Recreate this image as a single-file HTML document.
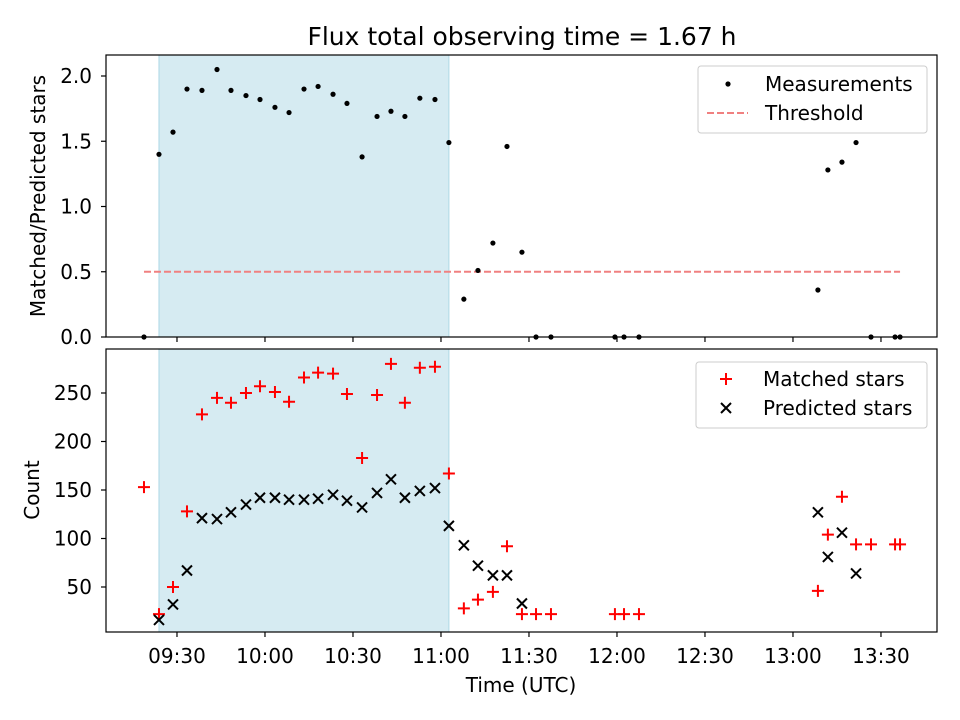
<!DOCTYPE html>
<html><head><meta charset="utf-8"><style>
body{margin:0;background:#fff}
svg{display:block;font-family:"DejaVu Sans","Liberation Sans",sans-serif}
</style></head><body>
<svg id="c" width="960" height="720" xmlns="http://www.w3.org/2000/svg"></svg>
<script>
const times=[18.75,23.86,28.64,33.41,38.52,43.64,48.41,53.52,58.3,63.4,68.2,73.3,78.1,83.2,87.95,93.1,98.2,102.95,107.7,112.8,117.95,122.7,127.8,132.6,137.7,142.5,147.6,152.4,157.5,179.3,182.4,187.5,248.5,251.9,256.7,261.5,266.6,274.8,276.5];
const ratio=[0,1.40,1.57,1.90,1.89,2.05,1.89,1.85,1.82,1.76,1.72,1.90,1.92,1.86,1.79,1.38,1.69,1.73,1.69,1.83,1.82,1.49,0.29,0.51,0.72,1.46,0.65,0,0,0,0,0,0.36,1.28,1.34,1.49,0,0,0];
const matched=[153,22,50,128,228,245,240,250,257,251,241,266,271,270,249,183,248,280,240,276,277,167,28,37,45,92,22,22,22,22,22,22,46,104,143,94,94,94,94];
const predicted=[null,16,32,67,121,120,127,135,142,142,140,140,141,145,139,132,147,161,142,149,152,113,93,72,62,62,33,null,null,null,null,null,127,81,106,64,null,null,null];
const xTickMin=[30,60,90,120,150,180,210,240,270];
const xTickLabels=["09:30","10:00","10:30","11:00","11:30","12:00","12:30","13:00","13:30"];
const topTicks=[0,0.5,1.0,1.5,2.0];
const botTicks=[50,100,150,200,250];
const threshold=0.5, threshStart=18.75, threshEnd=276.5;
const spanStart=23.86, spanEnd=122.7;

const S=document.getElementById('c'),NS='http://www.w3.org/2000/svg';
function el(t,a,p){const e=document.createElementNS(NS,t);for(const k in a)e.setAttribute(k,a[k]);(p||S).appendChild(e);return e;}
const L=106,R=937;
const X=m=>L+(m-5.8)*(R-L)/(289.1-5.8);
const T={top:55,bot:337},B={top:349,bot:632};
const Yt=v=>337-v*130.5;
const Yb=v=>587-(v-50)*0.97;
const FS=20;

const title=el('text',{x:522,y:45,'font-size':25,'text-anchor':'middle'});title.textContent='Flux total observing time = 1.67 h';



function panel(P,name){
  const g=el('g',{});
  
  
  const sp=el('rect',{x:X(spanStart),y:P.top,width:X(spanEnd)-X(spanStart),height:P.bot-P.top,fill:'#add8e6','fill-opacity':0.5,stroke:'#add8e6'},g);
  
  
  return g;
}
function frame(P,g){
  el('rect',{x:L,y:P.top,width:R-L,height:P.bot-P.top,fill:'none',stroke:'#000','stroke-width':1.2},g);
  xTickMin.forEach(m=>el('line',{x1:X(m),x2:X(m),y1:P.bot,y2:P.bot+5,stroke:'#000','stroke-width':1.2},g));
}
// top
const gt=panel(T,'ratio-panel');
const th=el('line',{x1:X(threshStart),x2:X(threshEnd),y1:Yt(threshold),y2:Yt(threshold),stroke:'#f08080','stroke-width':2,'stroke-dasharray':'7,3'},gt);


times.forEach((t,i)=>{const c=el('circle',{cx:X(t),cy:Yt(ratio[i]),r:2.6,fill:'#000'},gt);

});
frame(T,gt);
topTicks.forEach(v=>{el('line',{x1:L-5,x2:L,y1:Yt(v),y2:Yt(v),stroke:'#000','stroke-width':1.2},gt);
const t=el('text',{x:L-14,y:Yt(v)+7,'font-size':FS,'text-anchor':'end'},gt);t.textContent=v.toFixed(1);});
const yl1=el('text',{x:45,y:196,'font-size':FS,'text-anchor':'middle',transform:'rotate(-90 45 196)'},gt);yl1.textContent='Matched/Predicted stars';


// top legend
const lg1=el('g',{},gt);


el('rect',{x:698,y:66,width:229,height:67,rx:3,fill:'#fff','fill-opacity':0.8,stroke:'#ccc'},lg1);
el('circle',{cx:728,cy:84,r:2.6,fill:'#000'},lg1);
let t=el('text',{x:765,y:91,'font-size':FS},lg1);t.textContent='Measurements';
el('line',{x1:707,x2:748,y1:113,y2:113,stroke:'#f08080','stroke-width':2,'stroke-dasharray':'7,3'},lg1);
t=el('text',{x:765,y:120,'font-size':FS},lg1);t.textContent='Threshold';

// bottom
const gb=panel(B,'count-panel');
times.forEach((tm,i)=>{const x=X(tm),y=Yb(matched[i]);
const p=el('path',{d:`M${x-6} ${y}H${x+6}M${x} ${y-6}V${y+6}`,stroke:'#f00','stroke-width':2},gb);

});
times.forEach((tm,i)=>{if(predicted[i]==null)return;const x=X(tm),y=Yb(predicted[i]);
const p=el('path',{d:`M${x-5} ${y-5}L${x+5} ${y+5}M${x-5} ${y+5}L${x+5} ${y-5}`,stroke:'#000','stroke-width':2},gb);

});
frame(B,gb);
botTicks.forEach(v=>{el('line',{x1:L-5,x2:L,y1:Yb(v),y2:Yb(v),stroke:'#000','stroke-width':1.2},gb);
const t=el('text',{x:L-14,y:Yb(v)+7,'font-size':FS,'text-anchor':'end'},gb);t.textContent=v;});
xTickMin.forEach((m,i)=>{const t=el('text',{x:X(m),y:663,'font-size':FS,'text-anchor':'middle'},gb);t.textContent=xTickLabels[i];});
const yl2=el('text',{x:39,y:490,'font-size':FS,'text-anchor':'middle',transform:'rotate(-90 39 490)'},gb);yl2.textContent='Count';


const xl=el('text',{x:521,y:692,'font-size':FS,'text-anchor':'middle'},gb);xl.textContent='Time (UTC)';


const lg2=el('g',{},gb);


el('rect',{x:696,y:362,width:231,height:66,rx:3,fill:'#fff','fill-opacity':0.8,stroke:'#ccc'},lg2);
el('path',{d:'M720 379H732M726 373V385',stroke:'#f00','stroke-width':2},lg2);
t=el('text',{x:763,y:386,'font-size':FS},lg2);t.textContent='Matched stars';
el('path',{d:'M721 403L731 413M721 413L731 403',stroke:'#000','stroke-width':2},lg2);
t=el('text',{x:763,y:415,'font-size':FS},lg2);t.textContent='Predicted stars';
</script>
</body></html>
